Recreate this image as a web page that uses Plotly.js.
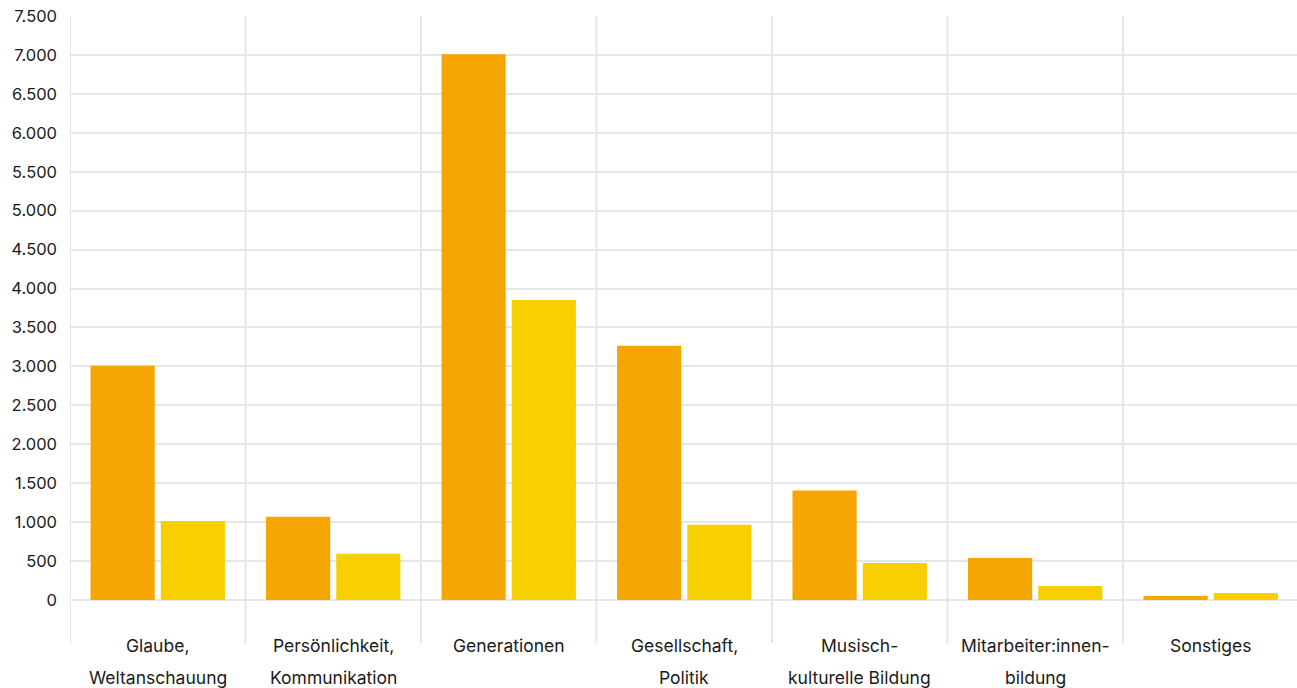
<!DOCTYPE html>
<html>
<head>
<meta charset="utf-8">
<script src="https://cdn.plot.ly/plotly-3.0.1.min.js"></script>
<style>
  html, body { margin: 0; padding: 0; background: #fff; }
  #chart { width: 1297px; height: 688px; }
</style>
</head>
<body>
<div id="chart"></div>
<script>
const categories = [
  'Glaube,<br>Weltanschauung',
  'Persönlichkeit,<br>Kommunikation',
  'Generationen',
  'Gesellschaft,<br>Politik',
  'Musisch-<br>kulturelle Bildung',
  'Mitarbeiter:innen-<br>bildung',
  'Sonstiges'
];
const seriesA = [3010, 1068, 7010, 3266, 1405, 540, 52];
const seriesB = [1015, 594, 3853, 965, 475, 180, 90];
const tickValues = [0, 500, 1000, 1500, 2000, 2500, 3000, 3500, 4000, 4500, 5000, 5500, 6000, 6500, 7000, 7500];
const tickLabels = ['0', '500', '1.000', '1.500', '2.000', '2.500', '3.000', '3.500', '4.000', '4.500', '5.000', '5.500', '6.000', '6.500', '7.000', '7.500'];

const colorA = '#F5A600';
const colorB = '#F8CF00';
const gridColor = '#E6E6E6';
const textColor = '#1A1A1A';

const idx = categories.map((_, i) => i);

const traces = [
  { type: 'bar', x: idx, y: seriesA, marker: { color: colorA }, hoverinfo: 'skip', showlegend: false },
  { type: 'bar', x: idx, y: seriesB, marker: { color: colorB }, hoverinfo: 'skip', showlegend: false }
];

const shapes = [];
for (let i = 0; i < categories.length; i++) {
  shapes.push({
    type: 'line', xref: 'x', yref: 'paper',
    x0: i - 0.5, x1: i - 0.5, y0: 0, y1: 1,
    line: { color: gridColor, width: 2 }, layer: 'below'
  });
}

const annotations = [];
categories.forEach((c, i) => {
  c.split('<br>').forEach((line, j) => {
    annotations.push({
      xref: 'x', yref: 'paper', x: i, y: 0,
      yanchor: 'middle', yshift: -2 - 32 * j,
      text: line, showarrow: false,
      font: { family: 'Inter, sans-serif', size: 17.5, color: textColor }
    });
  });
});

const layout = {
  width: 1297, height: 688,
  margin: { l: 70, r: 0, t: 16, b: 45 },
  paper_bgcolor: '#fff', plot_bgcolor: '#fff',
  font: { family: 'Inter, sans-serif', size: 16, color: textColor },
  barmode: 'group', bargap: 0.2, bargroupgap: 0.086,
  xaxis: {
    range: [-0.5, 6.492], showticklabels: false, showgrid: false,
    zeroline: false, showline: false, ticks: '', fixedrange: true
  },
  yaxis: {
    range: [-552, 7500], tickmode: 'array', tickvals: tickValues, ticktext: tickLabels,
    showgrid: true, gridcolor: gridColor, gridwidth: 2, zeroline: false,
    showline: false, ticks: '', ticklabelstandoff: 12,
    tickfont: { family: 'Inter, sans-serif', size: 16.5, color: textColor }, fixedrange: true
  },
  shapes: shapes,
  annotations: annotations
};

Plotly.newPlot('chart', traces, layout, { displayModeBar: false, staticPlot: true });
</script>
</body>
</html>
